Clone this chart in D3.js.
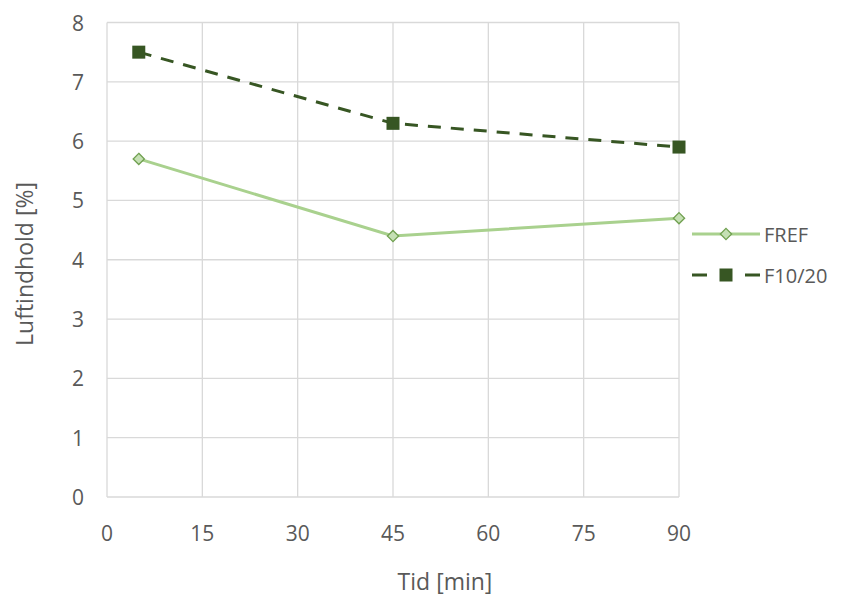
<!DOCTYPE html>
<html>
<head>
<meta charset="utf-8">
<script src="https://cdn.jsdelivr.net/npm/d3@7"></script>
<style>
  body { margin: 0; background: #fff; }
  text { font-family: "Open Sans", "Liberation Sans", sans-serif; fill: #595959; }
</style>
</head>
<body>
<script>
var svgWidth = 843;
var svgHeight = 598;

// data
var times = [5, 45, 90];
var fref = [5.7, 4.4, 4.7];
var f1020 = [7.5, 6.3, 5.9];
var xTicks = [0, 15, 30, 45, 60, 75, 90];
var yTicks = [0, 1, 2, 3, 4, 5, 6, 7, 8];
var seriesNames = ['FREF', 'F10/20'];

var plotLeft = 107, plotRight = 679, plotTop = 22.5, plotBottom = 497;

var svg = d3.select('body').append('svg')
  .attr('width', svgWidth)
  .attr('height', svgHeight);

var x = d3.scaleLinear().domain([0, 90]).range([plotLeft, plotRight]);
var y = d3.scaleLinear().domain([0, 8]).range([plotBottom, plotTop]);

// grid
svg.selectAll('.vgrid').data(xTicks).enter().append('line')
  .attr('x1', function(d){ return x(d); })
  .attr('x2', function(d){ return x(d); })
  .attr('y1', plotTop).attr('y2', plotBottom)
  .attr('stroke', '#d9d9d9').attr('stroke-width', 1.3);
svg.selectAll('.hgrid').data(yTicks).enter().append('line')
  .attr('y1', function(d){ return y(d); })
  .attr('y2', function(d){ return y(d); })
  .attr('x1', plotLeft).attr('x2', plotRight)
  .attr('stroke', '#d9d9d9').attr('stroke-width', 1.3);

// tick labels
svg.selectAll('.xlab').data(xTicks).enter().append('text')
  .attr('x', function(d){ return x(d); })
  .attr('y', 541)
  .attr('text-anchor', 'middle')
  .style('font-size', '21px')
  .text(function(d){ return d; });
svg.selectAll('.ylab').data(yTicks).enter().append('text')
  .attr('x', 84)
  .attr('y', function(d){ return y(d) + 8; })
  .attr('text-anchor', 'end')
  .style('font-size', '21px')
  .text(function(d){ return d; });

// axis titles
svg.append('text')
  .attr('x', 445).attr('y', 590)
  .attr('text-anchor', 'middle')
  .style('font-size', '23px')
  .text('Tid [min]');
svg.append('text')
  .attr('transform', 'translate(33,' + 264 + ') rotate(-90)')
  .attr('text-anchor', 'middle')
  .style('font-size', '23px')
  .text('Luftindhold [%]');

var line = d3.line()
  .x(function(d){ return x(d[0]); })
  .y(function(d){ return y(d[1]); });

var frefPts = d3.zip(times, fref);
var f1020Pts = d3.zip(times, f1020);

var lightGreen = '#a9d18e';
var darkGreen = '#375623';

// FREF
svg.append('path').datum(frefPts)
  .attr('d', line)
  .attr('fill', 'none')
  .attr('stroke', lightGreen)
  .attr('stroke-width', 3);
var diamond = d3.symbol().type(d3.symbolDiamond2).size(80);
svg.selectAll('.frefpt').data(frefPts).enter().append('path')
  .attr('d', diamond)
  .attr('transform', function(d){ return 'translate(' + x(d[0]) + ',' + y(d[1]) + ')'; })
  .attr('fill', '#c5e0b4')
  .attr('stroke', '#70a050')
  .attr('stroke-width', 1.3);

// F10/20
svg.append('path').datum(f1020Pts)
  .attr('d', line)
  .attr('fill', 'none')
  .attr('stroke', darkGreen)
  .attr('stroke-width', 3)
  .attr('stroke-dasharray', '13,10');
svg.selectAll('.fpt').data(f1020Pts).enter().append('rect')
  .attr('x', function(d){ return x(d[0]) - 6.5; })
  .attr('y', function(d){ return y(d[1]) - 6.5; })
  .attr('width', 13).attr('height', 13)
  .attr('fill', darkGreen);

// legend
var lg = svg.append('g');
lg.append('line').attr('x1', 692).attr('x2', 760).attr('y1', 234).attr('y2', 234)
  .attr('stroke', lightGreen).attr('stroke-width', 3);
lg.append('path').attr('d', diamond)
  .attr('transform', 'translate(726,234)')
  .attr('fill', '#c5e0b4').attr('stroke', '#70a050').attr('stroke-width', 1.3);
lg.append('text').attr('x', 764).attr('y', 242).style('font-size', '20px').text(seriesNames[0]);

lg.append('line').attr('x1', 692).attr('x2', 707).attr('y1', 275).attr('y2', 275)
  .attr('stroke', darkGreen).attr('stroke-width', 3);
lg.append('line').attr('x1', 745).attr('x2', 760).attr('y1', 275).attr('y2', 275)
  .attr('stroke', darkGreen).attr('stroke-width', 3);
lg.append('rect').attr('x', 719.5).attr('y', 268.5).attr('width', 13).attr('height', 13)
  .attr('fill', darkGreen);
lg.append('text').attr('x', 764).attr('y', 283).style('font-size', '20px').text(seriesNames[1]);
</script>
</body>
</html>
